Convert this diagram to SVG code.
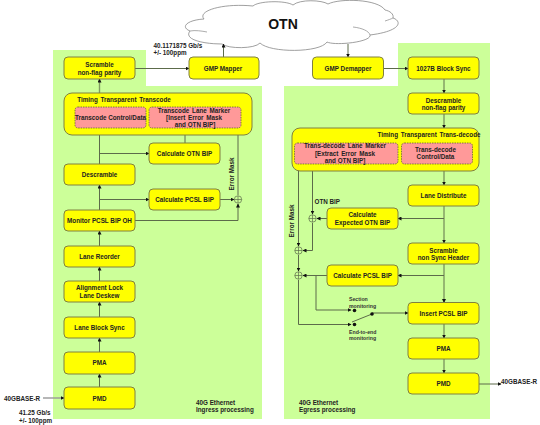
<svg xmlns="http://www.w3.org/2000/svg" width="540" height="425" viewBox="0 0 540 425">
<defs>
<style>
text{font-family:"Liberation Sans",Arial,sans-serif;font-size:6.3px;font-weight:bold;fill:#222;text-anchor:middle}
.s{font-size:5.2px;text-anchor:start;fill:#333}
.l{text-anchor:start}
.bg{fill:#ccff99}
.n{fill:#ffff00;stroke:#808040;stroke-width:1}
.p{fill:#ff9999;stroke:#666633;stroke-width:.8;stroke-dasharray:1.5 1}
.c{fill:none;stroke:#5c6b4a;stroke-width:1}
.t{fill:none;stroke:#7f9a60;stroke-width:1.4}
.x{fill:none;stroke:#5c6b4a;stroke-width:.7}
</style>
<marker id="a" markerWidth="4" markerHeight="4" refX="3.5" refY="2" orient="auto" markerUnits="userSpaceOnUse"><path d="M0 0L4 2L0 4z" fill="#111"/></marker>
</defs>
<path class="bg" d="M53 50H146V86H262V419H53z"/>
<path class="bg" d="M398 43H490V419H284V86H398z"/>
<g id="cloud"><path d="M190 31C180 27 187 20 204 19C197 11 222 3 253 6C258 1 285 0 293 5C300 -1 322 0 328 4C340 -2 378 -1 385 10C390 11 394 14 393 18C402 21 402 31 370 35C372 42 335 46 327 42C320 53 270 53 260 43C255 49 228 49 222 44C205 44 183 40 190 31z" fill="#fff" stroke="#888" stroke-width=".8"/>
<path d="M190 31C195 30 202 31 207 32M353 27C362 28 369 31 370 35M385 21C388 20 391 19 393 18" fill="none" stroke="#888" stroke-width=".7"/>
<text x="283" y="29" style="font-size:14px;fill:#111">OTN</text></g>
<g id="connectors">
<path class="c" marker-end="url(#a)" d="M135 68.500H189"/>
<path class="c" marker-end="url(#a)" d="M223.500 57V44"/>
<path class="t" marker-end="url(#a)" d="M99.500 93V79"/>
<path class="c" marker-end="url(#a)" d="M99.500 164V129"/>
<path class="c" marker-end="url(#a)" d="M99.500 153.500H149"/>
<path class="c" marker-end="url(#a)" d="M185 143V128"/>
<path class="c" marker-end="url(#a)" d="M99.500 210V185"/>
<path class="c" marker-end="url(#a)" d="M99.500 199.500H149"/>
<path class="c" marker-end="url(#a)" d="M220 199.500H234"/>
<path class="c" marker-end="url(#a)" d="M238 195V129"/>
<path class="c" marker-end="url(#a)" d="M135 220.500H238V204"/>
<path class="c" marker-end="url(#a)" d="M99.500 246V231"/>
<path class="c" marker-end="url(#a)" d="M99.500 281V267"/>
<path class="c" marker-end="url(#a)" d="M99.500 317V302"/>
<path class="c" marker-end="url(#a)" d="M99.500 352V338"/>
<path class="c" marker-end="url(#a)" d="M99.500 387V374"/>
<path class="t" style="stroke:#999" marker-end="url(#a)" d="M43 398H64"/>
<path class="c" marker-end="url(#a)" d="M348 44V57"/>
<path class="c" marker-end="url(#a)" d="M383 68.500H408"/>
<path class="t" marker-end="url(#a)" d="M444 79V93"/>
<path class="t" marker-end="url(#a)" d="M444 114V128"/>
<path class="t" marker-end="url(#a)" d="M444 171V185"/>
<path class="t" marker-end="url(#a)" d="M444 206V243"/>
<path class="c" marker-end="url(#a)" d="M444 218.500H398"/>
<path class="c" marker-end="url(#a)" d="M327 218.500H317"/>
<path class="c" marker-end="url(#a)" d="M312.500 164V214"/>
<path class="c" marker-end="url(#a)" d="M312.500 223V250.500H303"/>
<path class="c" marker-end="url(#a)" d="M298.500 164V246"/>
<path class="c" marker-end="url(#a)" d="M298.500 255V271"/>
<path class="c" marker-end="url(#a)" d="M327 275.500H303"/>
<path class="t" marker-end="url(#a)" d="M444 264V302.500"/>
<path class="c" marker-end="url(#a)" d="M444 275.500H398"/>
<path class="c" marker-end="url(#a)" d="M316 275.500V310H351"/>
<path class="c" marker-end="url(#a)" d="M298.500 280V324.500H351"/>
<path class="c" d="M352 322L372 314"/>
<path class="t" marker-end="url(#a)" d="M372 313H408"/>
<path class="t" marker-end="url(#a)" d="M444 324V338"/>
<path class="t" marker-end="url(#a)" d="M444 359V373"/>
<path class="c" marker-end="url(#a)" d="M479 384H501"/>
</g>
<g id="xor" fill="none">
<circle class="x" cx="238" cy="199.500" r="3.700"/><path class="x" d="M234.300 199.500h7.400M238 195.800v7.400"/>
<circle class="x" cx="312.500" cy="218.500" r="3.700"/><path class="x" d="M308.800 218.500h7.400M312.500 214.800v7.400"/>
<circle class="x" cx="298.500" cy="250.500" r="3.700"/><path class="x" d="M294.800 250.500h7.400M298.500 246.800v7.400"/>
<circle class="x" cx="298.500" cy="275.500" r="3.700"/><path class="x" d="M294.800 275.500h7.400M298.500 271.800v7.400"/>
</g>
<g id="switch" fill="#111"><circle cx="354.500" cy="310.500" r="1.800"/><circle cx="354.500" cy="324.500" r="1.800"/><circle cx="372" cy="314" r="1.800"/></g>
<g id="scramble1"><rect class="n" x="64" y="57" width="71" height="22" rx="4"/><text x="99.500" y="67">Scramble</text><text x="99.500" y="74.500">non-flag parity</text></g>
<g id="gmpmapper"><rect class="n" x="189" y="57" width="70" height="22" rx="4"/><text x="223" y="70.500">GMP Mapper</text></g>
<g id="transcode"><rect class="n" x="64" y="93" width="188" height="42" rx="8"/><text x="124" y="101.500" style="word-spacing:1px">Timing Transparent  Transcode</text>
<rect class="p" x="75" y="107" width="71" height="21" rx="3"/><text x="110.500" y="120">Transcode Control/Data</text>
<rect class="p" x="149" y="107" width="92" height="21" rx="3"/><text x="194" y="112.500" style="word-spacing:1px">Transcode  Lane Marker</text><text x="194" y="120" style="word-spacing:1px">[Insert Error  Mask</text><text x="195" y="127">and OTN BIP]</text></g>
<g id="calcotn"><rect class="n" x="149" y="143" width="71" height="21" rx="4"/><text x="184.500" y="155.500">Calculate OTN BIP</text></g>
<g id="descramble"><rect class="n" x="64" y="164" width="71" height="21" rx="4"/><text x="99.500" y="177">Descramble</text></g>
<g id="calcpcsl"><rect class="n" x="149" y="189" width="71" height="21" rx="4"/><text x="184.500" y="201.500">Calculate PCSL BIP</text></g>
<g id="monitor"><rect class="n" x="64" y="210" width="71" height="21" rx="4"/><text x="99.500" y="223">Monitor PCSL BIP OH</text></g>
<g id="reorder"><rect class="n" x="64" y="246" width="71" height="21" rx="4"/><text x="99.500" y="258.500">Lane Reorder</text></g>
<g id="align"><rect class="n" x="64" y="281" width="71" height="21" rx="4"/><text x="99.500" y="290">Alignment Lock</text><text x="99.500" y="297.500">Lane Deskew</text></g>
<g id="lbs"><rect class="n" x="64" y="317" width="71" height="21" rx="4"/><text x="99.500" y="329.500">Lane Block Sync</text></g>
<g id="pma1"><rect class="n" x="64" y="352" width="71" height="22" rx="4"/><text x="99.500" y="365">PMA</text></g>
<g id="pmd1"><rect class="n" x="64" y="387" width="71" height="22" rx="4"/><text x="99.500" y="400.500">PMD</text></g>
<g id="demapper"><rect class="n" x="312.500" y="57" width="71" height="22" rx="4"/><text x="348" y="70.500">GMP Demapper</text></g>
<g id="sync1027"><rect class="n" x="408" y="57" width="71" height="22" rx="4"/><text x="443.500" y="70.500">1027B Block Sync</text></g>
<g id="descramble2"><rect class="n" x="408" y="93" width="71" height="21" rx="4"/><text x="443.500" y="102.500">Descramble</text><text x="443.500" y="110">non-flag parity</text></g>
<g id="transdecode"><rect class="n" x="292" y="128" width="187" height="43" rx="8"/><text x="429" y="136.500" style="word-spacing:1px">Timing Transparent  Trans-decode</text>
<rect class="p" x="294.500" y="143" width="103.500" height="21" rx="3"/><text x="345" y="148" style="word-spacing:1px">Trans-decode  Lane Marker</text><text x="345" y="155.500" style="word-spacing:1px">[Extract Error  Mask</text><text x="345" y="163">and OTN BIP]</text>
<rect class="p" x="401.500" y="143" width="71" height="21" rx="3"/><text x="435.500" y="151.500">Trans-decode</text><text x="435.500" y="159">Control/Data</text></g>
<g id="distribute"><rect class="n" x="408" y="185" width="71" height="21" rx="4"/><text x="443.500" y="198">Lane Distribute</text></g>
<g id="calcexp"><rect class="n" x="327" y="208" width="71" height="21" rx="4"/><text x="362.500" y="216.500">Calculate</text><text x="362.500" y="224.500">Expected OTN BIP</text></g>
<g id="scramble2"><rect class="n" x="408" y="243" width="71" height="21" rx="4"/><text x="443.500" y="252.500">Scramble</text><text x="443.500" y="260">non Sync Header</text></g>
<g id="calcpcsl2"><rect class="n" x="327" y="265" width="71" height="21" rx="4"/><text x="362.500" y="277.500">Calculate PCSL BIP</text></g>
<g id="insert"><rect class="n" x="408" y="302.500" width="71" height="21.500" rx="4"/><text x="443.500" y="315.500">Insert PCSL BIP</text></g>
<g id="pma2"><rect class="n" x="408" y="338" width="71" height="21" rx="4"/><text x="443.500" y="350.500">PMA</text></g>
<g id="pmd2"><rect class="n" x="408" y="373" width="71" height="21" rx="4"/><text x="443.500" y="386">PMD</text></g>
<g id="labels">
<text class="l" x="153.500" y="47.500">40.1171875 Gb/s</text><text class="l" x="153.500" y="55">+/- 100ppm</text>
<text class="l" x="4" y="401">40GBASE-R</text>
<text class="l" x="19" y="415">41.25 Gb/s</text><text class="l" x="19" y="422.500">+/- 100ppm</text>
<text class="l" x="196" y="404.500">40G Ethernet</text><text class="l" x="196" y="412">Ingress processing</text>
<text class="l" x="299" y="404.500">40G Ethernet</text><text class="l" x="299" y="412">Egress processing</text>
<text class="l" x="501" y="383.500">40GBASE-R</text>
<text class="l" x="314.500" y="204">OTN BIP</text>
<text x="234" y="174" transform="rotate(-90 234 174)">Error Mask</text>
<text x="294" y="221" transform="rotate(-90 294 221)">Error Mask</text>
<text class="s" x="349" y="301">Section</text><text class="s" x="349" y="307.500">monitoring</text>
<text class="s" x="349" y="333.500">End-to-end</text><text class="s" x="349" y="339.500">monitoring</text>
</g>
</svg>
